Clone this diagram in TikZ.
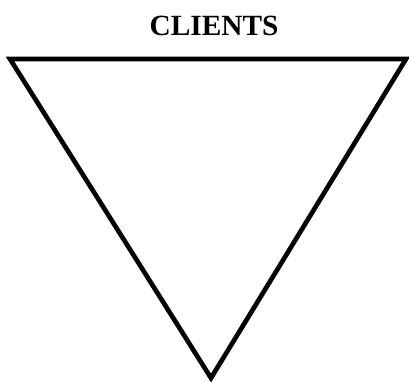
\documentclass[tikz,border=0pt]{standalone}
\usepackage{fontspec}
\setmainfont{Liberation Serif}
\begin{document}
\begin{tikzpicture}[x=0.75pt, y=-0.75pt, every node/.style={font=\bfseries\fontsize{22}{26}\selectfont}]
  \useasboundingbox (0,0) rectangle (409,381);
  % inverted triangle, apex at the bottom
  \coordinate (TL) at (10,59);
  \coordinate (TR) at (406,59);
  \coordinate (Ap) at (211,378);
  \draw[line width=3.5pt, line join=miter] (TL)--(TR)--(Ap)--cycle;
  \node (clients) at (214,26) {CLIENTS};
\end{tikzpicture}
\end{document}
